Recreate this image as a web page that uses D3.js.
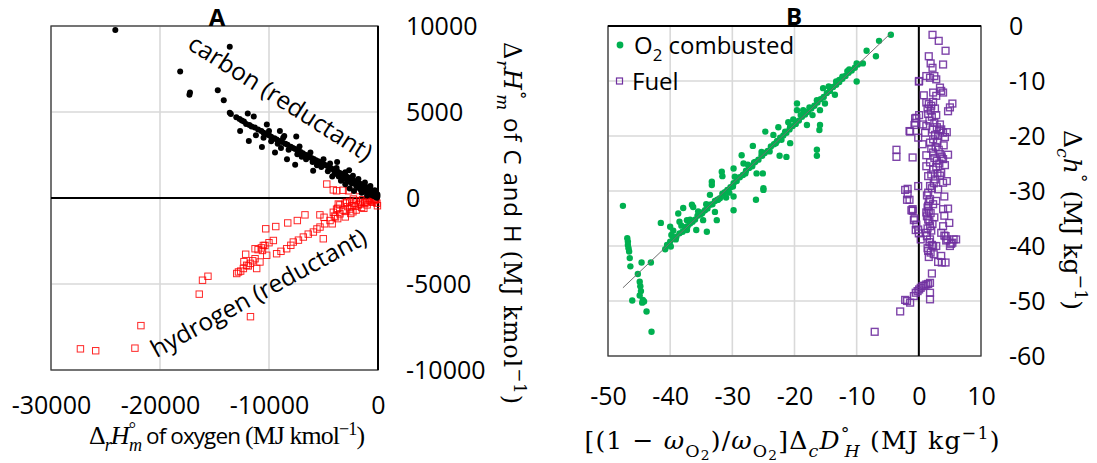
<!DOCTYPE html>
<html>
<head>
<meta charset="utf-8">
<script src="https://cdn.jsdelivr.net/npm/d3@7"></script>
<style>
  body { margin: 0; background: #fff; }
  svg { display: block; }
</style>
</head>
<body>
<svg id="chart" width="1097" height="463"></svg>
<script>
// ---- data ----
const xTicksA = [-30000, -20000, -10000, 0];
const yTicksA = [-10000, -5000, 0, 5000, 10000];
const xTicksB = [-50, -40, -30, -20, -10, 0, 10];
const yTicksB = [-60, -50, -40, -30, -20, -10, 0];

// carbon (reductant), black dots  [O2 kJ, C kJ]
const carbonPts = [
  [-24100,9770],[-13600,8800],[-18150,7360],[-17250,6130],[-17300,6000],[-14700,6260],[-14150,5680],
  [-13600,4950],[-13500,4880],[-13000,4700],[-12700,4600],[-12500,4500],[-11950,4910],[-11400,4740],
  [-12650,3890],[-11850,3310],[-10650,2970],[-10200,4280],[-9450,2650],[-9000,3900],[-8600,3600],
  [-7500,3580],[-8350,2250],[-7600,1930],[-5950,1580],[-3750,2100],[-2650,1620],
  [-12300,4450],[-12100,4300],[-11800,4250],[-11600,4150],[-11300,4100],[-11000,3980],[-10700,3900],
  [-10500,3800],[-10200,3700],[-10000,3650],[-9800,3560],[-9500,3480],[-9300,3400],[-9000,3320],
  [-8800,3250],[-8500,3150],[-8300,3100],[-8000,2980],[-7800,2900],[-7600,2850],[-7300,2750],
  [-7100,2680],[-6900,2600],[-6700,2520],[-6500,2480],[-6300,2400],[-6100,2330],[-5900,2270],
  [-5700,2200],[-5500,2130],[-5300,2080],[-5100,2000],[-4900,1930],[-4700,1870],[-4500,1800],
  [-4300,1730],[-4100,1660],[-3900,1600],[-3700,1520],[-3500,1460],[-3300,1400],[-3100,1330],
  [-2900,1250],[-2700,1190],[-2500,1120],[-2300,1050],[-2100,980],[-1900,920],[-1700,850],
  [-1500,780],[-1300,700],[-1100,640],[-900,570],[-700,500],[-500,420],[-300,340],[-150,280],[-50,200],
  [-9800,3300],[-8900,2900],[-7000,2400],[-6000,2100],[-5200,1800],[-4600,1550],[-4000,1400],
  [-3600,1250],[-3200,1100],[-2800,950],[-2400,850],[-2000,700],[-1800,600],[-1600,500],[-1400,450],
  [-1200,380],[-1000,300],[-800,250],[-600,180],[-400,120],[-200,60],[-100,20],[-1500,300],[-1000,150],
  [-2200,400],[-2600,550],[-3000,800],[-3400,1000],[-4200,1250],[-5600,1900],[-6600,2250],[-7400,2550],
  [-8200,2800],[-9200,3150],[-10500,3500],[-11200,3650],
  [-10000,3900],[-8700,3500],[-7200,3000],[-6200,2650],[-5000,2250],[-4400,2000],[-3800,1750],
  [-3000,1500],[-2300,1300],[-1800,1100],[-1200,900],[-700,700],[-300,450],[-50,80],[-120,150]
];

// hydrogen (reductant), red open squares
const hydrogenPts = [
  [-27300,-8770],[-25900,-8880],[-22300,-8730],[-21750,-7420],[-16400,-5590],[-16100,-4780],
  [-15600,-4550],[-11700,-6900],
  [-12960,-4390],[-12800,-4300],[-12600,-4250],[-12350,-4100],[-12050,-3910],[-11900,-3950],
  [-11700,-3800],[-11500,-3650],[-11280,-3530],[-11130,-4100],[-10830,-3720],[-10600,-3050],
  [-10370,-2760],[-10210,-3330],[-10000,-2600],[-9600,-2470],[-12140,-3270],[-11280,-2950],
  [-10520,-2760],[-11000,-3000],[-10700,-2900],[-12300,-3700],
  [-9300,-3240],[-8900,-3100],[-8380,-2950],[-8000,-2750],[-7770,-2560],[-7300,-2450],[-6850,-2270],
  [-6400,-2100],[-5930,-1980],[-5600,-1800],[-5320,-1690],[-4900,-1500],[-4400,-1310],[-3900,-1100],
  [-3490,-920],[-3000,-780],[-2570,-640],[-2100,-480],[-1650,-350],[-1200,-250],[-730,-150],[-300,-60],
  [-5020,-2370],[-4100,-830],[-3800,-650],[-2870,-250],[-2260,-60],
  [-3500,-400],[-3200,-700],[-3000,-300],[-2800,-500],[-2600,-200],[-2400,-450],[-2200,-300],
  [-2000,-150],[-1800,-400],[-1600,-250],[-1400,-100],[-1200,-300],[-1000,-150],[-800,-50],
  [-600,-200],[-400,-100],[-200,-50],[-100,-300],[-50,-450],[-2500,-900],[-2000,-700],[-1500,-550],
  [-1000,-400],[-3000,-1100],[-500,-250],[-300,-150],[-4200,-1500],[-3700,-1200],[-2300,-800],
  [-1300,-600],[-3700,-600],[-4000,-1050],
  [-10300,-1790],[-9380,-1660],[-8280,-1450],[-7400,-1310],[-6700,-980],[-5330,-980],[-4950,-1120],
  [-3640,-350],
  [-4700,810],[-4100,470],[-3800,420],[-3200,450],[-2700,420],[-1700,430],[-800,400],[-300,200]
];

// panel B: O2 combusted, green dots  [x MJ/kg, dch MJ/kg]
const o2Pts = [
  [-4.5,-1.6],[-6.4,-2.7],[-8.4,-4.5],[-6.9,-5.5],[-10,-6.8],[-9.0,-6.8],[-11.5,-8.2],[-12.3,-9.2],
  [-13.3,-10.1],[-10,-10.1],[-13.5,-12.5],[-15.4,-11.3],[-16.4,-13.5],[-15.1,-14.1],[-15.9,-15.3],
  [-17.1,-16.2],[-18.6,-15.3],[-19.6,-14.1],[-19.6,-15.3],[-18.0,-18.0],[-16.0,-18.9],[-15.9,-18.0],
  [-16.4,-22.5],[-16.4,-23.6],[-20.7,-18.3],[-21.5,-19.2],[-22.6,-18.4],[-23.4,-19.8],[-22.1,-20.7],
  [-20.7,-21.3],[-24.7,-19.2],[-22.4,-23.6],[-21.3,-23.8],[-26.7,-21.8],[-25.3,-22.9],[-25.2,-23.6],
  [-25.1,-26.8],[-26.1,-26.8],[-28.5,-23.5],[-28.2,-25.0],[-29.8,-25.9],[-27.9,-26.8],[-31.7,-26.5],
  [-31.6,-27.3],[-29.6,-27.4],[-29.9,-29.2],[-29.8,-31.0],[-29.8,-33.5],[-25.0,-29.5],[-25.0,-29.8],
  [-26.2,-31.6],[-33.3,-28.3],[-33.3,-28.9],[-33.6,-30.7],[-32.3,-31.6],[-36.5,-32.5],[-36.3,-32.9],
  [-37.9,-33.1],[-38.7,-34.1],[-38.5,-35.6],[-37.3,-35.3],[-34.9,-34.1],[-34.7,-35.3],[-32.8,-33.8],
  [-32.5,-35.3],[-34.1,-37.4],[-35.8,-37.1],[-37.3,-37.1],[-40.0,-36.5],[-39.8,-38.0],[-39.1,-38.8],
  [-39.9,-40.1],[-40.8,-40.6],[-41.5,-35.8],
  [-47.6,-32.7],[-46.9,-38.6],[-46.8,-39.2],[-46.8,-39.8],[-46.7,-40.4],[-46.6,-41.0],[-46.5,-42.2],
  [-46.4,-43.7],[-44.6,-43.0],[-43.1,-43.0],[-45.2,-45.1],[-44.9,-46.5],[-44.8,-47.3],[-44.7,-48.2],
  [-44.9,-49.0],[-44.4,-49.8],[-44.5,-50.3],[-44.2,-50.1],[-46.1,-49.9],[-43.8,-51.9],[-43.0,-55.6],
  [-40.5,-39.8],[-40,-39.2],[-39.5,-38.6],[-39,-38.3],[-38.5,-37.7],[-38,-37.4],[-37.6,-36.6],
  [-37.2,-36.4],[-36.8,-35.9],[-36.4,-35.6],[-36,-35.2],[-35.6,-34.5],[-35.2,-34.3],[-34.8,-33.9],
  [-34.4,-33.5],[-34,-33.2],[-33.6,-32.5],[-33.2,-32.4],[-32.8,-31.8],[-32.4,-31.6],[-32,-31.3],
  [-31.6,-30.5],[-31.2,-30.2],[-30.8,-29.8],[-30.3,-29.3],[-29.8,-28.6],[-29.3,-28.2],[-28.8,-27.5],
  [-28.3,-27.1],[-27.8,-26.3],[-27.3,-25.8],[-26.8,-25.5],[-26.3,-24.7],[-25.8,-24.3],[-25.3,-23.5],
  [-24.8,-23.1],[-24.3,-22.7],[-23.8,-21.9],[-23.3,-21.5],[-22.8,-20.9],[-22.3,-20.3],[-21.8,-19.9],
  [-21.3,-19.4],[-20.8,-18.8],[-20.3,-18.2],[-19.8,-17.8],[-19.3,-17.2],[-18.8,-16.5],[-18.3,-16.1],
  [-17.8,-15.6],[-17.3,-15.0],[-16.8,-14.5],[-16.3,-13.9],[-15.8,-13.3],[-15.3,-12.9],[-14.8,-12.2],
  [-14.3,-11.8],[-13.8,-11.1],[-13.3,-10.7],[-12.8,-10.2],[-12.3,-9.6],[-11.8,-9.1],[-11.3,-8.5],
  [-10.8,-8.1],[-10.3,-7.6],[-9.8,-7.0],
  [-21,-17.5],[-20.2,-17.0],[-19,-16.2],[-17.6,-14.8],[-14.5,-11.0],[-12.8,-9.8],[-11.2,-7.9],
  [-23,-21.3],[-24,-22.8],[-26.5,-24.8],[-27.5,-25.2],[-30.5,-30.3],[-31,-31.2],[-34.2,-32.4],
  [-35.5,-33.7],[-36.8,-35.2],[-38.2,-36.3],[-39.5,-37.2]
];

// panel B: Fuel, purple open squares
const fuelPts = [
  [2.2,-1.6],[3.2,-2.7],[4.3,-4.5],[1.6,-5.5],[1.9,-6.8],[2.2,-7.6],[3.9,-7.0],[1.2,-9.1],[1.8,-9.4],
  [2.5,-9.1],[2.8,-9.7],[3.4,-11.2],[3.6,-11.8],[2.3,-12.1],[2.8,-12.7],[3.9,-12.1],[0.05,-10.0],
  [0.8,-12.6],[1.2,-13.9],[1.6,-14.2],[2.0,-14.5],[2.3,-13.8],[1.4,-15.0],[1.9,-15.4],[2.6,-15.0],
  [5.4,-14.1],[5.0,-14.8],[4.7,-15.5],[-0.4,-16.7],[0.05,-16.2],[-0.6,-17.6],[-0.7,-18.0],[-1.4,-19.2],
  [0.7,-17.9],[1.2,-18.2],[1.0,-19.4],[2.5,-17.6],[3.4,-17.9],[3.6,-18.8],[3.9,-19.4],[4.5,-19.3],
  [3.1,-20.0],[2.3,-20.6],[1.8,-21.2],[-0.1,-20.3],[0.6,-21.5],[-3.6,-22.5],[-3.6,-23.8],[-1.0,-23.9],
  [1.2,-23.5],[2.3,-23.0],[3.4,-23.3],[4.7,-23.4],[1.8,-24.8],[2.9,-24.5],[3.9,-24.2],[1.2,-25.5],
  [2.3,-26.1],[3.6,-26.7],[1.5,-27.3],[2.6,-27.9],[3.9,-28.5],[4.5,-28.2],[1.8,-29.1],[3.1,-29.7],
  [-0.1,-29.1],[-1.8,-29.6],[-1.8,-30.6],[-1.5,-31.6],
  [1.5,-30.3],[1.8,-31.5],[2.3,-32.4],[2.8,-31.8],[4.1,-31.0],[3.9,-33.3],[4.7,-33.2],[1.5,-32.7],
  [1.2,-33.9],[1.5,-35.2],[1.8,-36.4],[1.2,-37.6],[1.8,-38.8],[2.3,-40.0],[2.8,-40.0],[1.5,-40.9],
  [4.1,-34.5],[4.9,-35.8],[3.9,-36.4],[3.6,-37.6],[4.1,-38.1],
  [-1.0,-33.3],[-1.0,-33.6],[-0.7,-35.0],[-0.4,-36.1],[-0.1,-37.0],[0.3,-38.8],
  [4.3,-38.2],[4.6,-38.8],[5.6,-38.8],[5.4,-39.4],[6.0,-38.8],[5.0,-40.0],[4.4,-39.0],[5.2,-39.6],
  [3.6,-41.8],[3.1,-42.9],[4.3,-43.0],[3.7,-43.0],[2.1,-45.0],
  [1.8,-46.7],[1.5,-46.9],[1.2,-47.0],[0.9,-47.2],[0.6,-47.3],[0.3,-47.6],[0.05,-47.9],[-0.2,-48.2],
  [-0.5,-48.5],[-0.8,-49.1],[1.8,-48.5],[1.8,-49.7],[-1.9,-50.0],[-1.4,-50.3],[-3.0,-51.9],[-2.2,-49.8],
  [-7.1,-55.6],
  [-2.2,-29.8],[-1.9,-31.6],[-1.2,-33.5],[-0.8,-35.3],[-0.5,-37.1],[0,-37.7],[0,-10.1],[-0.6,-16.8],
  [-1.5,-19.1],
  [1.3,-30.8],[1.6,-31.9],[1.4,-33.0],[1.9,-34.0],[1.3,-34.6],[1.7,-35.5],[1.4,-36.8],[2.0,-37.2],
  [1.3,-38.2],[1.7,-39.3],[2.1,-39.8],[1.4,-40.4],[1.9,-41.2],[2.4,-41.5],[1.6,-42.0],[2.2,-36.0],
  [2.5,-34.8],[1.6,-33.6],
  [1.5,-16.0],[2.1,-16.5],[2.8,-16.2],[1.7,-17.2],[2.2,-18.8],[2.9,-18.4],[3.3,-19.0],[2.6,-19.8],
  [3.0,-21.0],[2.7,-22.0],[3.2,-22.5],[2.0,-22.3],[2.5,-24.0],[3.3,-25.0],[2.8,-25.6],[3.0,-26.8],
  [2.0,-27.0],[2.4,-28.6],[3.4,-27.2],[2.1,-29.5],[4.2,-20.2],[4.0,-21.7],[4.2,-25.3],[3.7,-23.9]
];

// linear fit through the O2 points (ends of the drawn line)
const fitLine = [[-47.6, -47.6], [-4.5, -1.3]];

// ---- setup ----
const SANS = "'Open Sans', sans-serif";
const SERIF = "'DejaVu Serif', 'Liberation Serif', serif";
const SERIF_NARROW = "'Liberation Serif', serif";
const GRID = "#d9d9d9";
const svg = d3.select("#chart");

// rich text helper: parts = [{t, f:'s'(serif)|undefined, i:italic, sh:'sub'|'sup'|'sub2', dx}]
function rich(parent, parts, size, serif = SERIF, sscale = 1) {
  const t = parent.append("text").attr("font-size", size).attr("fill", "#000");
  let off = 0;
  const shifts = { sub: 0.3, sup: -0.42, sub2: 0.45 };
  parts.forEach(p => {
    const target = p.sh ? shifts[p.sh] * size : 0;
    const base = p.f === "s" ? size * sscale : size;
    const ts = t.append("tspan").text(p.t)
      .attr("dy", target - off)
      .attr("font-family", p.f === "s" ? serif : SANS)
      .attr("font-size", base * (p.sh === "sub2" ? 0.55 : p.sh ? 0.7 : 1));
    off = target;
    if (p.i) ts.attr("font-style", "italic");
    if (p.dx) ts.attr("dx", p.dx);
  });
  return t;
}

function panel(opts) {
  const { x, y, xTicks, yTicks, tickX, tickY } = opts;
  const g = svg.append("g");
  const [x0, x1] = x.range(), [y0, y1] = y.range();

  // gridlines
  g.append("g").selectAll("line").data(xTicks).join("line")
    .attr("x1", d => x(d)).attr("x2", d => x(d)).attr("y1", y1).attr("y2", y0)
    .attr("stroke", GRID).attr("stroke-width", 1.6);
  g.append("g").selectAll("line").data(yTicks).join("line")
    .attr("y1", d => y(d)).attr("y2", d => y(d)).attr("x1", x0).attr("x2", x1)
    .attr("stroke", GRID).attr("stroke-width", 1.6);

  // frame
  g.append("rect").attr("x", x0).attr("y", y1).attr("width", x1 - x0).attr("height", y0 - y1)
    .attr("fill", "none").attr("stroke", "#3a3a3a").attr("stroke-width", 1.3);

  // axes (labels only)
  const fmt = d => String(d);
  const ax = g.append("g").attr("transform", `translate(0,${tickY})`)
    .call(d3.axisBottom(x).tickValues(xTicks).tickFormat(fmt).tickSize(0).tickPadding(0));
  const ay = g.append("g").attr("transform", `translate(${tickX},0)`)
    .call(d3.axisRight(y).tickValues(yTicks).tickFormat(fmt).tickSize(0).tickPadding(0));
  [ax, ay].forEach(a => {
    a.select(".domain").remove();
    a.selectAll("text").attr("font-family", SANS).attr("font-size", 25).attr("fill", "#000");
  });
  return g;
}

// ---- Panel A ----
const xA = d3.scaleLinear().domain([-30000, 0]).range([51, 378]);
const yA = d3.scaleLinear().domain([-10000, 10000]).range([370, 26]);
const gA = panel({ x: xA, y: yA, xTicks: xTicksA, yTicks: yTicksA, tickX: 406, tickY: 396 });

gA.append("line").attr("x1", xA(-30000)).attr("x2", xA(0)).attr("y1", yA(0)).attr("y2", yA(0))
  .attr("stroke", "#000").attr("stroke-width", 2);
gA.append("line").attr("x1", xA(0)).attr("x2", xA(0)).attr("y1", yA(10000)).attr("y2", yA(-10000))
  .attr("stroke", "#000").attr("stroke-width", 2);

gA.append("g").selectAll("rect").data(hydrogenPts).join("rect")
  .attr("x", d => xA(d[0]) - 3.2).attr("y", d => yA(d[1]) - 3.2)
  .attr("width", 6.4).attr("height", 6.4)
  .attr("fill", "none").attr("stroke", "#ff0000").attr("stroke-width", 1).attr("stroke-opacity", 0.85);

gA.append("g").selectAll("circle").data(carbonPts).join("circle")
  .attr("cx", d => xA(d[0])).attr("cy", d => yA(d[1])).attr("r", 3)
  .attr("fill", "#000");

svg.append("text").attr("x", 217).attr("y", 26).attr("text-anchor", "middle")
  .attr("font-family", SANS).attr("font-weight", "bold").attr("font-size", 24).text("A");

svg.append("text").attr("transform", "translate(281,97) rotate(32.5)")
  .attr("text-anchor", "middle").attr("dominant-baseline", "central")
  .attr("font-family", SANS).attr("font-size", 24.5).text("carbon (reductant)");
svg.append("text").attr("transform", "translate(258,292) rotate(-28.6)")
  .attr("text-anchor", "middle").attr("dominant-baseline", "central")
  .attr("font-family", SANS).attr("font-size", 24.5).text("hydrogen (reductant)");

const dHm = [
  { t: "Δ", f: "s" }, { t: "r", f: "s", i: 1, sh: "sub" }, { t: "H", f: "s", i: 1 },
  { t: "°", f: "s", sh: "sup" }, { t: "m", f: "s", i: 1, sh: "sub", dx: -6 }
];
rich(svg, dHm.concat([
  { t: " of oxygen " }, { t: "(MJ kmol", f: "s" }, { t: "−1", f: "s", sh: "sup" }, { t: ")", f: "s" }
]), 22.5, SERIF_NARROW, 1.15).attr("x", 227).attr("y", 444).attr("text-anchor", "middle")
  .attr("textLength", 276).attr("lengthAdjust", "spacing");

rich(svg, dHm.concat([
  { t: " of C and H " }, { t: "(MJ kmol", f: "s" }, { t: "−1", f: "s", sh: "sup" }, { t: ")", f: "s" }
]), 24).attr("transform", "translate(504,223) rotate(90)").attr("text-anchor", "middle")
  .attr("textLength", 362).attr("lengthAdjust", "spacing");

// ---- Panel B ----
const xB = d3.scaleLinear().domain([-50, 10]).range([608, 981]);
const yB = d3.scaleLinear().domain([-60, 0]).range([356, 26]);
const gB = panel({ x: xB, y: yB, xTicks: xTicksB, yTicks: yTicksB, tickX: 1009, tickY: 387 });

gB.append("line").attr("x1", xB(0)).attr("x2", xB(0)).attr("y1", yB(0)).attr("y2", yB(-60))
  .attr("stroke", "#000").attr("stroke-width", 2);
gB.append("line").attr("x1", xB(-50)).attr("x2", xB(10)).attr("y1", yB(0)).attr("y2", yB(0))
  .attr("stroke", "#000").attr("stroke-width", 2);

gB.append("g").selectAll("rect").data(fuelPts).join("rect")
  .attr("x", d => xB(d[0]) - 3.4).attr("y", d => yB(d[1]) - 3.4)
  .attr("width", 6.8).attr("height", 6.8)
  .attr("fill", "none").attr("stroke", "#7030a0").attr("stroke-width", 1.4).attr("stroke-opacity", 0.9);

gB.append("g").selectAll("circle").data(o2Pts).join("circle")
  .attr("cx", d => xB(d[0])).attr("cy", d => yB(d[1])).attr("r", 3.2)
  .attr("fill", "#00b050");

gB.append("path").datum(fitLine)
  .attr("d", d3.line().x(d => xB(d[0])).y(d => yB(d[1])))
  .attr("stroke", "#6f6f6f").attr("stroke-width", 1).attr("fill", "none");

// legend
gB.append("circle").attr("cx", 620).attr("cy", 45).attr("r", 3.4).attr("fill", "#00b050");
rich(gB, [{ t: "O" }, { t: "2", sh: "sub" }, { t: " combusted" }], 24).attr("x", 634).attr("y", 54);
gB.append("rect").attr("x", 616.5).attr("y", 78).attr("width", 6).attr("height", 6)
  .attr("fill", "none").attr("stroke", "#7030a0").attr("stroke-width", 1.2);
gB.append("text").attr("x", 632).attr("y", 90).attr("font-family", SANS).attr("font-size", 24).text("Fuel");

svg.append("text").attr("x", 794).attr("y", 25).attr("text-anchor", "middle")
  .attr("font-family", SANS).attr("font-weight", "bold").attr("font-size", 24).text("B");

rich(svg, [
  { t: "[(1 − ", f: "s" }, { t: "ω", f: "s", i: 1 }, { t: "O", f: "s", sh: "sub" }, { t: "2", f: "s", sh: "sub2" },
  { t: ")/", f: "s" }, { t: "ω", f: "s", i: 1 }, { t: "O", f: "s", sh: "sub" }, { t: "2", f: "s", sh: "sub2" },
  { t: "]Δ", f: "s" }, { t: "c", f: "s", i: 1, sh: "sub" }, { t: "D", f: "s", i: 1 },
  { t: "°", f: "s", sh: "sup" }, { t: "H", f: "s", i: 1, sh: "sub", dx: -6 },
  { t: "  (MJ kg", f: "s" }, { t: "−1", f: "s", sh: "sup" }, { t: ")", f: "s" }
], 25).attr("x", 792).attr("y", 449).attr("text-anchor", "middle")
  .attr("textLength", 415).attr("lengthAdjust", "spacing");

rich(svg, [
  { t: "Δ", f: "s" }, { t: "c", f: "s", i: 1, sh: "sub" }, { t: "h", f: "s", i: 1 },
  { t: "°", f: "s", sh: "sup" }, { t: " (MJ kg", f: "s" }, { t: "−1", f: "s", sh: "sup" }, { t: ")", f: "s" }
], 25).attr("transform", "translate(1064,220) rotate(90)").attr("text-anchor", "middle")
  .attr("textLength", 180).attr("lengthAdjust", "spacing");
</script>
</body>
</html>
